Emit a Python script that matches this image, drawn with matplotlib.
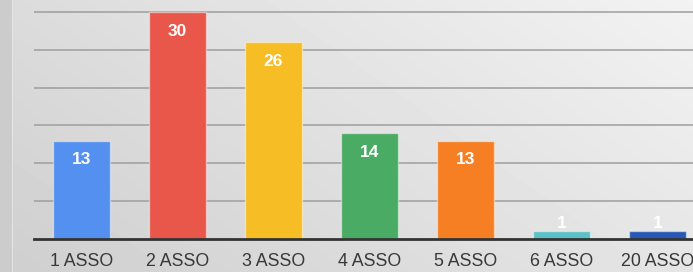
import numpy as np
import matplotlib
matplotlib.use("Agg")
import matplotlib.pyplot as plt

categories = ["1 ASSO", "2 ASSO", "3 ASSO", "4 ASSO", "5 ASSO", "6 ASSO", "20 ASSO"]
values = [13, 30, 26, 14, 13, 1, 1]
colors = ["#5390ef", "#e8574a", "#f6bd25", "#4aab64", "#f77f23", "#5bc1c6", "#2858b6"]

plt.rcParams['font.family'] = ['Liberation Sans', 'DejaVu Sans']

fig = plt.figure(figsize=(6.93, 2.72), dpi=100)

# gradient background (lighter towards top right)
bg = fig.add_axes([0, 0, 1, 1], zorder=-10)
yy, xx = np.mgrid[0:1:272j, 0:1:693j]
shade = 0.81 + 0.09 * xx + 0.05 * (1 - yy)
shade[:, :12] = 0.80
bg.imshow(shade, cmap="gray", vmin=0, vmax=1, aspect="auto", extent=[0, 1, 0, 1])
bg.axvline(12 / 693, color="#e4e4e4", lw=0.8)
bg.set_axis_off()

# axes extends a bit past the right edge, like the cropped screenshot
ax = fig.add_axes([33.5 / 693, 33.3 / 272, 672 / 693, 238.7 / 272])
ax.patch.set_alpha(0)

x = np.arange(len(categories))
ax.bar(x, values, width=0.6, color=colors, edgecolor=(1, 1, 1, 0.45), linewidth=1, zorder=3)

ax.set_xlim(-0.5, len(categories) - 0.5)
ax.set_ylim(0, 31.6)
ax.set_yticks([5, 10, 15, 20, 25, 30])
ax.yaxis.grid(True, color="#9e9e9e", linewidth=1.1, zorder=0)
ax.set_axisbelow(True)
ax.tick_params(axis="y", left=False, labelleft=False)
ax.tick_params(axis="x", length=0, pad=10, labelsize=12.8, labelcolor="#383838")
ax.set_xticks(x)
ax.set_xticklabels(categories)
for s in ["top", "right", "left"]:
    ax.spines[s].set_visible(False)
ax.spines["bottom"].set_color("#333333")
ax.spines["bottom"].set_linewidth(2)
ax.spines["bottom"].set_zorder(4)

for i, v in enumerate(values):
    if v >= 5:
        off = -14
    else:
        off = 5.5
    ax.annotate(str(v), xy=(i, v), xytext=(0, off), textcoords="offset points",
                ha="center", va="center", color="white", fontsize=12.5,
                fontweight="bold", zorder=5)

fig.savefig("out.png", dpi=100)
